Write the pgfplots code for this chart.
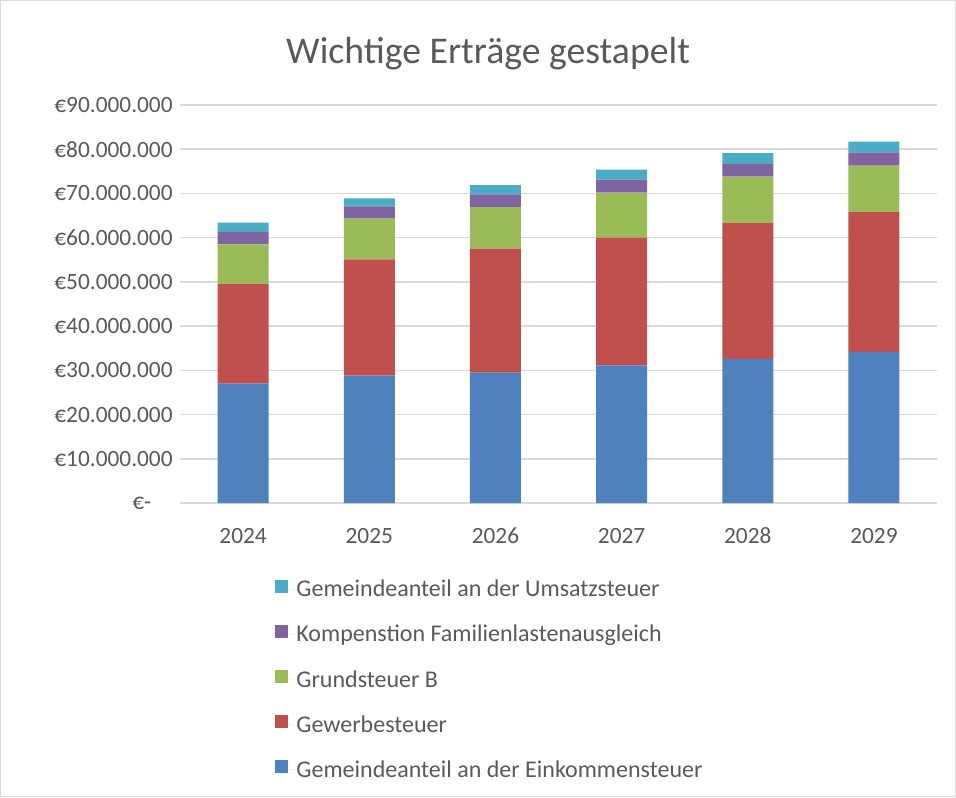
\documentclass[border=0pt]{standalone}
\usepackage{fontspec}
\setmainfont{Carlito}
\usepackage{pgfplots}
\usepackage{pgfplotstable}
\pgfplotsset{compat=1.18}
\definecolor{cEK}{HTML}{4F81BD}
\definecolor{cGW}{HTML}{C0504D}
\definecolor{cGR}{HTML}{9BBB59}
\definecolor{cKF}{HTML}{8064A2}
\definecolor{cUS}{HTML}{4BACC6}
\definecolor{txt}{HTML}{595959}
\definecolor{gridc}{HTML}{D9D9D9}

% values in million euro, one row per year
\pgfplotstableread{
x  ek   gw   gr   kf  us
0  27.0 22.5 9.0  2.8 2.1
1  28.8 26.3 9.2  2.8 1.8
2  29.5 28.0 9.4  2.9 2.1
3  31.1 28.9 10.2 2.9 2.3
4  32.6 30.7 10.5 2.9 2.4
5  34.2 31.6 10.5 3.0 2.4
}\ertraege

\pgfplotsset{sq/.style={draw=none,fill=#1,
  legend image code/.code={\path (0pt,0pt) -- (14pt,0pt);
    \fill[#1] (0pt,-2.5pt) rectangle (10pt,7.5pt);}}}

\begin{document}
\begin{tikzpicture}
\draw[gridc,line width=0.75pt] (0.375pt,0.375pt) rectangle (716.625pt,597.375pt);
\node[txt,font=\fontsize{28.3}{33}\selectfont] at (366pt,557.5pt) {Wichtige Erträge gestapelt};
\begin{axis}[at={(135pt,220.5pt)},anchor=south west,
  scale only axis,width=567.75pt,height=298.5pt,
  ybar stacked,bar width=38.25pt,
  xmin=-0.5,xmax=5.5,ymin=0,ymax=90,
  xtick={0,...,5},xticklabels={2024,2025,2026,2027,2028,2029},
  ytick={0,10,...,90},
  yticklabels={€-\rule{16pt}{0pt},€10.000.000,€20.000.000,€30.000.000,€40.000.000,
    €50.000.000,€60.000.000,€70.000.000,€80.000.000,€90.000.000},
  axis line style={draw=none},major tick length=0pt,
  ymajorgrids,grid style={gridc,line width=1.1pt},
  tick label style={txt,font=\fontsize{17.5}{20}\selectfont},
  yticklabel style={xshift=-2pt},
  xticklabel style={yshift=-15pt,text height=12pt,text depth=0pt},
  reverse legend,legend cell align=left,
  legend style={at={(0.12,-0.18)},anchor=north west,
    draw=none,fill=none,text=txt,font=\fontsize{18}{21}\selectfont,
    row sep=15.8pt,legend columns=1},
]
\addplot[sq=cEK] table[x=x,y=ek]{\ertraege};
\addlegendentry{Gemeindeanteil an der Einkommensteuer}
\addplot[sq=cGW] table[x=x,y=gw]{\ertraege};
\addlegendentry{Gewerbesteuer}
\addplot[sq=cGR] table[x=x,y=gr]{\ertraege};
\addlegendentry{Grundsteuer B}
\addplot[sq=cKF] table[x=x,y=kf]{\ertraege};
\addlegendentry{Kompenstion Familienlastenausgleich}
\addplot[sq=cUS] table[x=x,y=us]{\ertraege};
\addlegendentry{Gemeindeanteil an der Umsatzsteuer}
\end{axis}
\end{tikzpicture}
\end{document}
